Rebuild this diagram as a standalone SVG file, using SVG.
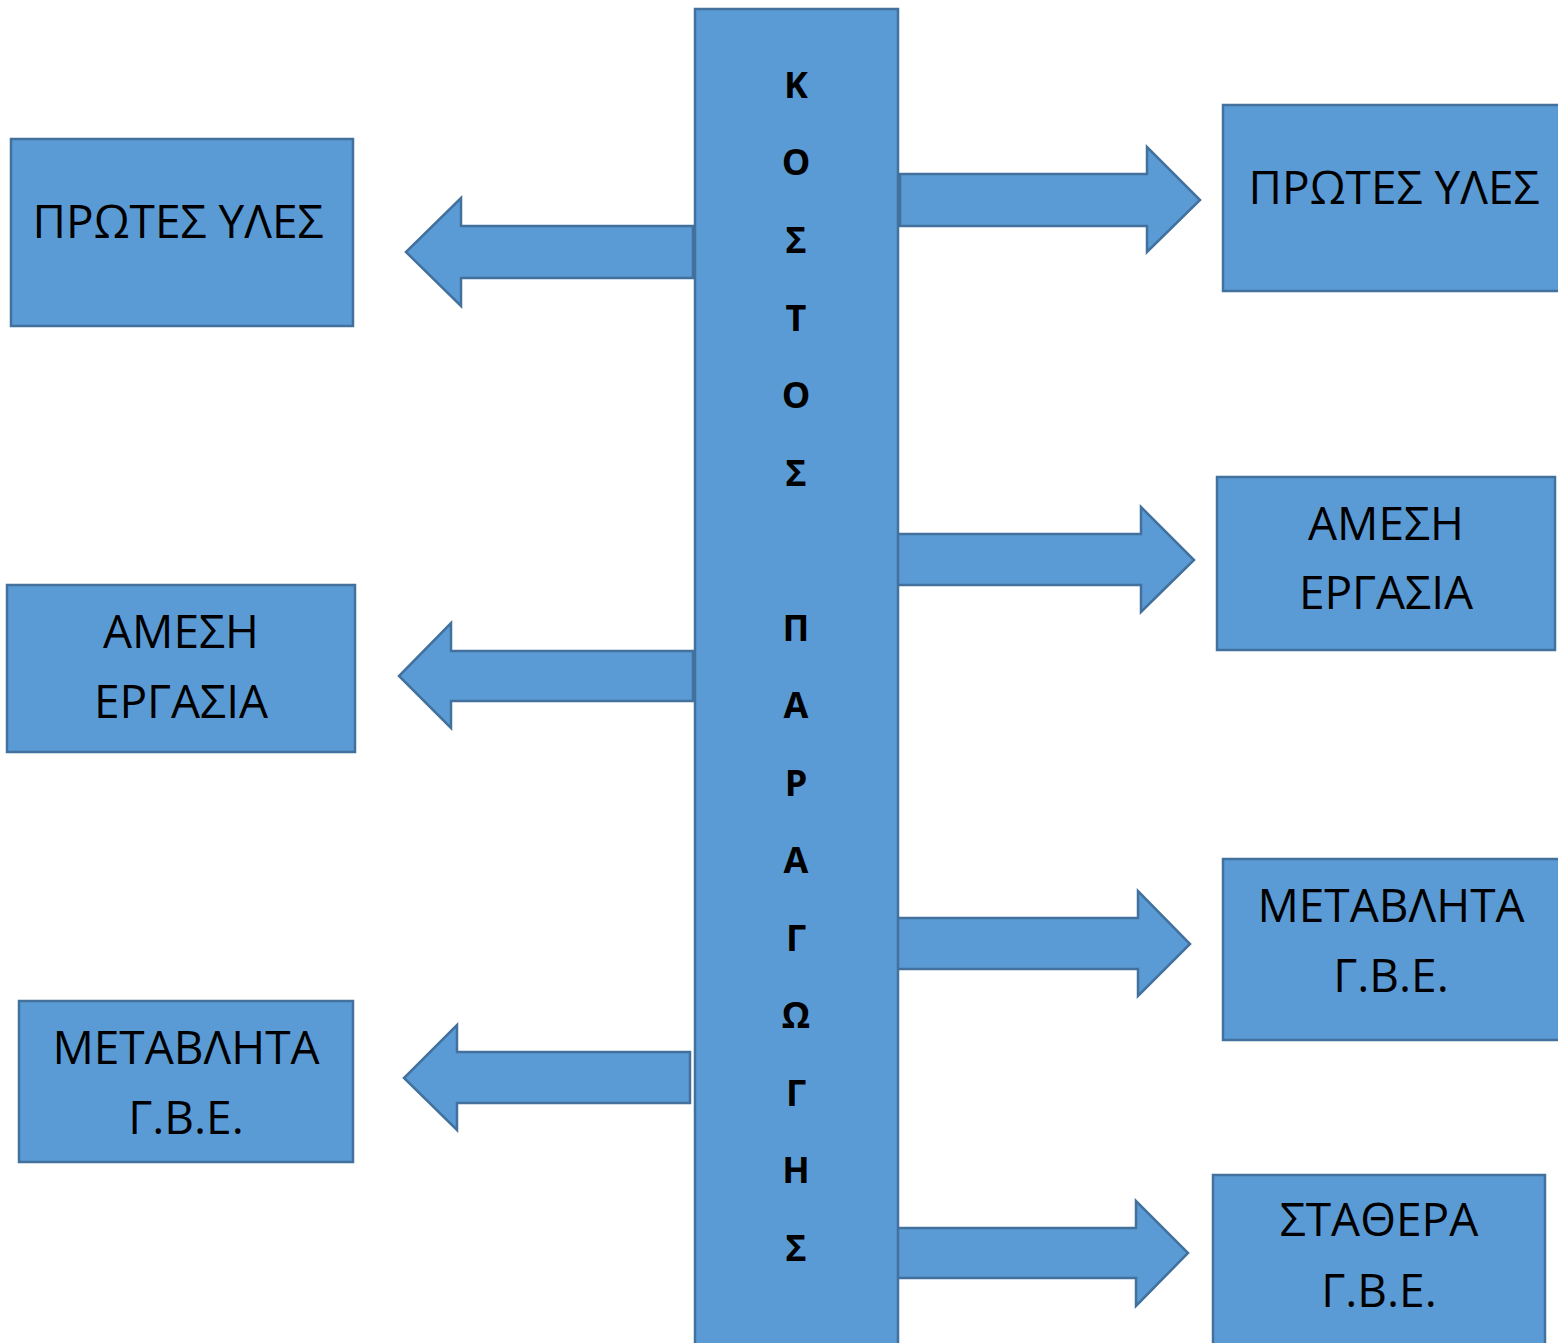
<svg xmlns="http://www.w3.org/2000/svg" width="1558" height="1343" viewBox="0 0 1558 1343">
<style>
.box{fill:#5B9BD5;stroke:#41719C;stroke-width:2.5}
.arr{fill:#5B9BD5;stroke:#41719C;stroke-width:2.5;stroke-linejoin:miter}
.t{font-family:"Open Sans","Liberation Sans",sans-serif;font-size:46px;fill:#000;text-anchor:middle}
.c{font-family:"Open Sans","Liberation Sans",sans-serif;font-size:36px;font-weight:bold;fill:#000;text-anchor:middle}
</style>
<rect width="1558" height="1343" fill="#fff"/>
<g id="connectors">
<polygon class="arr" points="693,226 461,226 461,198 406,252 461,306 461,278 693,278"/>
<polygon class="arr" points="693,651 451,651 451,623 399,676 451,728 451,701 693,701"/>
<polygon class="arr" points="690,1052 457,1052 457,1025 404,1078 457,1130 457,1103 690,1103"/>
<polygon class="arr" points="900,174 1147,174 1147,147 1200,200 1147,252 1147,226 900,226"/>
<polygon class="arr" points="895,534 1141,534 1141,507 1194,560 1141,612 1141,585 895,585"/>
<polygon class="arr" points="893,918 1138,918 1138,891 1190,944 1138,996 1138,969 893,969"/>
<polygon class="arr" points="897,1228 1136,1228 1136,1201 1188,1253 1136,1306 1136,1278 897,1278"/>
</g>
<g id="center">
<rect class="box" x="695" y="9" width="203" height="1345"/>
<text class="c" x="796" y="98">Κ</text>
<text class="c" x="796" y="175">Ο</text>
<text class="c" x="796" y="253">Σ</text>
<text class="c" x="796" y="331">Τ</text>
<text class="c" x="796" y="408">Ο</text>
<text class="c" x="796" y="486">Σ</text>
<text class="c" x="796" y="641">Π</text>
<text class="c" x="796" y="718">Α</text>
<text class="c" x="796" y="796">Ρ</text>
<text class="c" x="796" y="873">Α</text>
<text class="c" x="796" y="951">Γ</text>
<text class="c" x="796" y="1028">Ω</text>
<text class="c" x="796" y="1106">Γ</text>
<text class="c" x="796" y="1183">Η</text>
<text class="c" x="796" y="1261">Σ</text>
</g>
<g id="left1">
<rect class="box" x="11" y="139" width="342" height="187"/>
<text class="t" x="178" y="238">ΠΡΩΤΕΣ ΥΛΕΣ</text>
</g>
<g id="left2">
<rect class="box" x="7" y="585" width="348" height="167"/>
<text class="t" x="181" y="648">ΑΜΕΣΗ</text>
<text class="t" x="181" y="718">ΕΡΓΑΣΙΑ</text>
</g>
<g id="left3">
<rect class="box" x="19" y="1001" width="334" height="161"/>
<text class="t" x="186" y="1064">ΜΕΤΑΒΛΗΤΑ</text>
<text class="t" x="186" y="1134">Γ.Β.Ε.</text>
</g>
<g id="right1">
<rect class="box" x="1223" y="105" width="340" height="186"/>
<text class="t" x="1394" y="204">ΠΡΩΤΕΣ ΥΛΕΣ</text>
</g>
<g id="right2">
<rect class="box" x="1217" y="477" width="338" height="173"/>
<text class="t" x="1386" y="540">ΑΜΕΣΗ</text>
<text class="t" x="1386" y="609">ΕΡΓΑΣΙΑ</text>
</g>
<g id="right3">
<rect class="box" x="1223" y="859" width="340" height="181"/>
<text class="t" x="1391" y="922">ΜΕΤΑΒΛΗΤΑ</text>
<text class="t" x="1391" y="992">Γ.Β.Ε.</text>
</g>
<g id="right4">
<rect class="box" x="1213" y="1175" width="332" height="180"/>
<text class="t" x="1379" y="1236">ΣΤΑΘΕΡΑ</text>
<text class="t" x="1379" y="1307">Γ.Β.Ε.</text>
</g>
</svg>
